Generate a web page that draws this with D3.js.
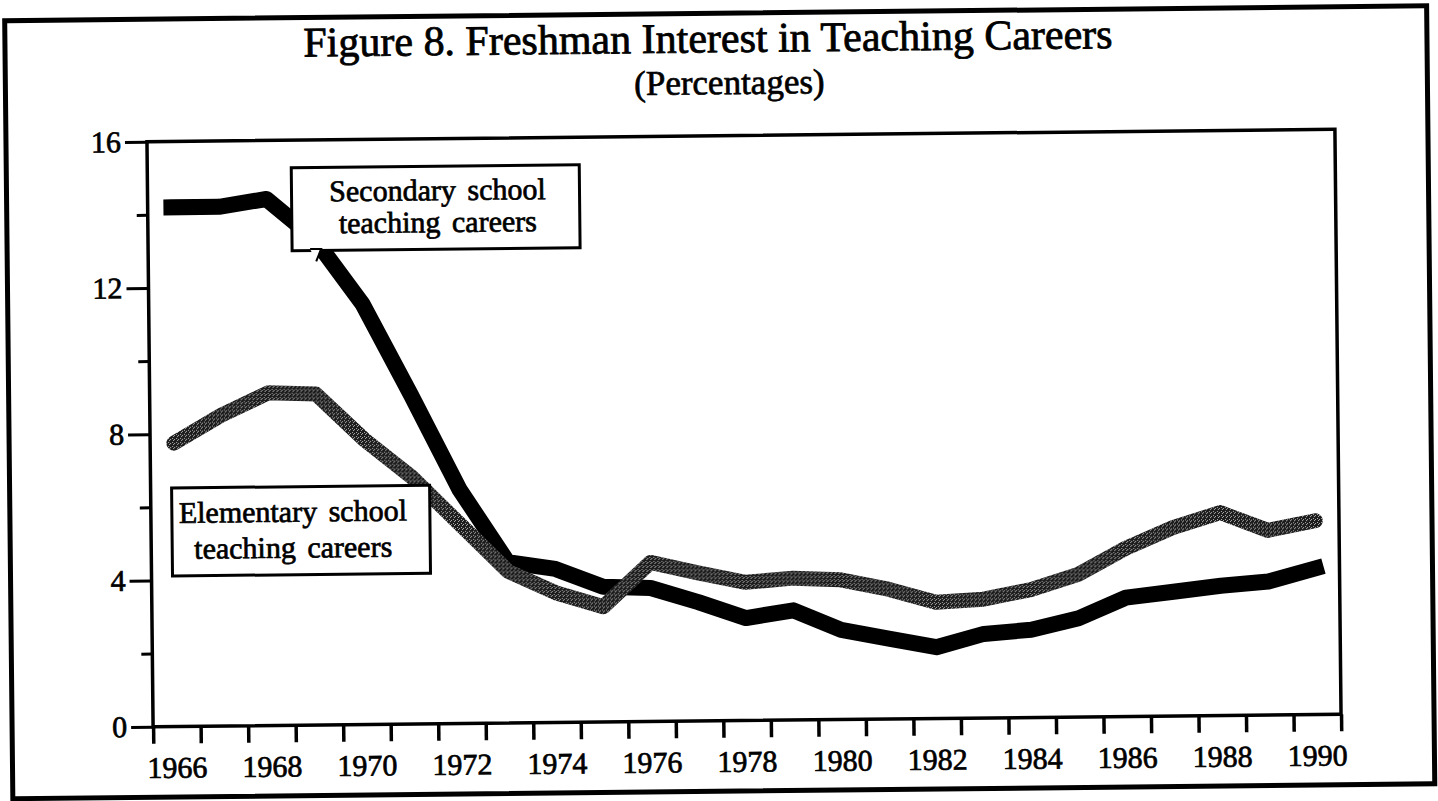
<!DOCTYPE html>
<html><head><meta charset="utf-8">
<script src="https://cdn.jsdelivr.net/npm/d3@7"></script>
<style>html,body{margin:0;padding:0;background:#fff;overflow:hidden}</style>
</head><body><svg id="chart" width="1438" height="801"></svg>
<script>
// ---- data ----
const years = [1966,1967,1968,1969,1970,1971,1972,1973,1974,1975,1976,1977,1978,1979,1980,1981,1982,1983,1984,1985,1986,1987,1988,1989,1990];
const secondary = [14.2,14.2,14.4,13.3,11.5,9.0,6.4,4.4,4.2,3.7,3.65,3.25,2.8,3.0,2.45,2.2,1.95,2.3,2.4,2.7,3.25,3.4,3.55,3.65,4.0];
const elementary = [7.75,8.5,9.1,9.05,7.8,6.75,5.45,4.15,3.55,3.15,4.35,4.05,3.78,3.88,3.82,3.55,3.18,3.25,3.5,3.9,4.6,5.15,5.55,5.05,5.3];
const yTicks = [0,4,8,12,16];
const yMinorTicks = [2,6,10,14];
const xTickLabels = [1966,1968,1970,1972,1974,1976,1978,1980,1982,1984,1986,1988,1990];
const titleText = "Figure 8. Freshman Interest in Teaching Careers";
const subtitleText = "(Percentages)";
const secondaryLabel = ["Secondary school","teaching careers"];
const elementaryLabel = ["Elementary school","teaching careers"];

// ---- layout ----
const L = 150, R = 1338, T = 135.5, B = 720.5;
const FONT = "'Liberation Serif','Times New Roman',Times,serif";
const svg = d3.select("#chart");

const defs = svg.append("defs");
const pat = defs.append("pattern").attr("id","elemPat").attr("patternUnits","userSpaceOnUse")
  .attr("width",4).attr("height",4);
pat.append("rect").attr("width",4).attr("height",4).attr("fill","#1c1c1c");
[[0,0],[2,1],[1,2]].forEach(p => pat.append("rect").attr("x",p[0]).attr("y",p[1]).attr("width",1).attr("height",1).attr("fill","#b0b0b0"));

const g = svg.append("g").attr("transform","rotate(-0.6,744,428)");

function thicken(sel, w){ sel.attr("stroke","#000").attr("stroke-width",w).attr("fill","#000"); return sel; }

// outer frame
g.append("rect").attr("x",9).attr("y",13).attr("width",1422).attr("height",778)
  .attr("fill","none").attr("stroke","#000").attr("stroke-width",5);

// title
thicken(g.append("text").attr("x",712).attr("y",52).attr("text-anchor","middle")
  .attr("font-family",FONT).attr("font-size",42).text(titleText), 0.8);
thicken(g.append("text").attr("x",733).attr("y",94).attr("text-anchor","middle")
  .attr("font-family",FONT).attr("font-size",35).text(subtitleText), 0.7);

// scales
const x = d3.scaleLinear().domain([1966,1991]).range([L,R]);
const xBand = d3.scaleBand().domain(years).range([L,R]);
const y = d3.scaleLinear().domain([0,16]).range([B,T]);

// y axis
const yAx = g.append("g").attr("transform",`translate(${L},0)`)
  .call(d3.axisLeft(y).tickValues(yTicks).tickSize(22).tickSizeOuter(0).tickPadding(4).tickFormat(d3.format("d")));
yAx.select(".domain").remove();
yAx.selectAll("line").attr("stroke","#000").attr("stroke-width",3);
thicken(yAx.selectAll("text").attr("font-family",FONT).attr("font-size",30), 0.7);
const yMin = g.append("g").attr("transform",`translate(${L},0)`)
  .call(d3.axisLeft(y).tickValues(yMinorTicks).tickSize(11).tickSizeOuter(0).tickFormat(""));
yMin.select(".domain").remove();
yMin.selectAll("line").attr("stroke","#000").attr("stroke-width",3);

// x axis ticks (band boundaries)
const xAx = g.append("g").attr("transform",`translate(0,${B})`)
  .call(d3.axisBottom(x).tickValues(years.concat([1991])).tickSize(17).tickSizeOuter(0).tickFormat(""));
xAx.select(".domain").remove();
xAx.selectAll("line").attr("stroke","#000").attr("stroke-width",3.5);
// x labels (band centres)
const xLab = g.append("g").attr("transform",`translate(0,${B})`)
  .call(d3.axisBottom(xBand).tickValues(xTickLabels).tickSize(0).tickPadding(30).tickFormat(d3.format("d")));
xLab.select(".domain").remove();
thicken(xLab.selectAll("text").attr("font-family",FONT).attr("font-size",30), 0.7);

// plot border
g.append("rect").attr("x",L).attr("y",T).attr("width",R-L).attr("height",B-T)
  .attr("fill","none").attr("stroke","#000").attr("stroke-width",3.5);

// lines
const line = d3.line().x(d => x(d.year + 0.5)).y(d => y(d.v)).curve(d3.curveLinear);
const secData = years.map((yr,i) => ({year:yr, v:secondary[i]}));
const eleData = years.map((yr,i) => ({year:yr, v:elementary[i]}));
g.append("path").attr("d",line(secData)).attr("fill","none").attr("stroke","#000")
  .attr("stroke-width",16).attr("stroke-linejoin","round").attr("stroke-linecap","square");
g.append("path").attr("d",line(eleData)).attr("fill","none").attr("stroke","url(#elemPat)")
  .attr("stroke-width",15).attr("stroke-linejoin","round").attr("stroke-linecap","round");

// label boxes
function labelBox(x0,y0,w,h,lines,cx,b1,b2){
  g.append("rect").attr("x",x0).attr("y",y0).attr("width",w).attr("height",h)
    .attr("fill","#fff").attr("stroke","#000").attr("stroke-width",3);
  [b1,b2].forEach((b,i) => thicken(g.append("text").attr("x",cx).attr("y",b).attr("text-anchor","middle")
    .attr("font-family",FONT).attr("font-size",30).attr("word-spacing",4).text(lines[i]), 0.7));
}
labelBox(294,163,288,83,secondaryLabel,440,197,229);
g.append("path").attr("d","M312,244.5 L323,244.5 L318,257").attr("fill","#fff").attr("stroke","#000").attr("stroke-width",2);
labelBox(171,482,258,88,elementaryLabel,292,517,553);
</script>
</body></html>
